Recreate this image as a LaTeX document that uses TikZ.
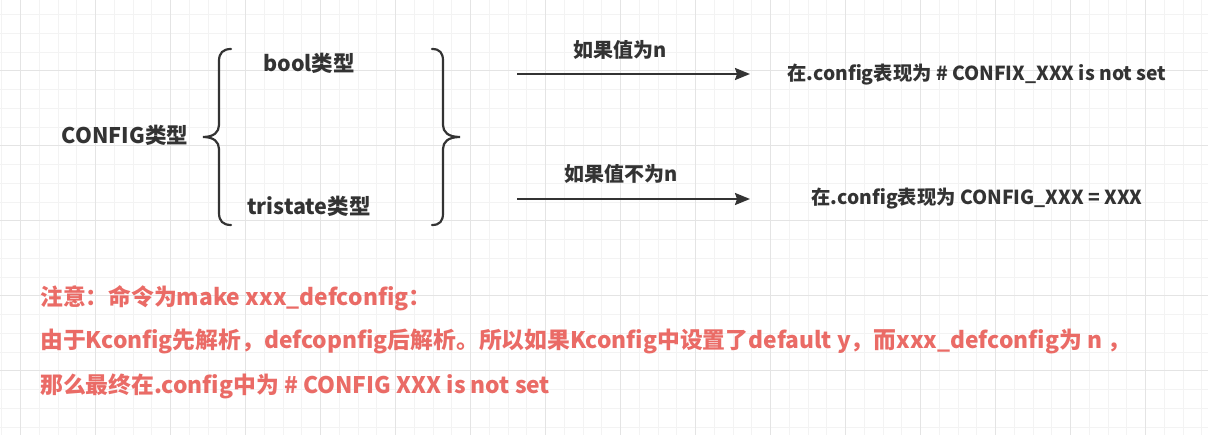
\documentclass[tikz,border=0pt]{standalone}
\usepackage{fontspec}
\setmainfont{Noto Sans CJK SC}
\usetikzlibrary{arrows.meta}
\definecolor{ink}{HTML}{333333}
\definecolor{note}{HTML}{EA6B66}
\definecolor{gridminor}{HTML}{F3F3F3}
\definecolor{gridmajor}{HTML}{E4E4E4}
\tikzset{
  label/.style={font=\fontsize{21.5}{24}\selectfont\bfseries, text=ink, inner sep=0pt},
  flowlabel/.style={font=\fontsize{20}{22}\selectfont\bfseries, text=ink, inner sep=0pt},
  result/.style={font=\fontsize{19.3}{22}\selectfont\bfseries, text=ink, inner sep=0pt},
  notetext/.style={font=\fontsize{22.8}{25}\selectfont\bfseries, text=note, inner sep=0pt, anchor=west},
  brace/.style={draw=ink, line width=2.2pt, line cap=round},
  flow/.style={draw=ink, line width=2pt, -{Stealth[length=15pt, width=12pt, inset=2pt]}}
}
\begin{document}
\begin{tikzpicture}[x=1pt, y=-1pt]
    \useasboundingbox[fill=white] (0,0) rectangle (1208,435);
    % Grid
    \foreach \i in {0,...,64} \draw[gridminor, line width=1pt] (1.95+18.75*\i,0) -- (1.95+18.75*\i,435);
    \foreach \i in {0,...,23} \draw[gridminor, line width=1pt] (0,-4+18.75*\i) -- (1208,-4+18.75*\i);
    \foreach \i in {0,...,16} \draw[gridmajor, line width=1pt] (20.7+75*\i,0) -- (20.7+75*\i,435);
    \foreach \i in {0,...,6} \draw[gridmajor, line width=1pt] (0,-4+75*\i) -- (1208,-4+75*\i);

    % Nodes
    \node[label] at (125, 135) (config) {CONFIG类型};
    \node[label] at (309, 63)  (bool)   {bool类型};
    \node[label] at (309, 206) (tri)    {tristate类型};

    \node[flowlabel] at (620, 50)  (ifn)    {如果值为n};
    \node[flowlabel] at (621, 174) (ifnotn) {如果值不为n};
    \node[result] at (977, 75)  (notset) {在.config表现为 \# CONFIX\_XXX is not set};
    \node[result] at (977, 199) (isset)  {在.config表现为 CONFIG\_XXX = XXX};

    \coordinate (a1) at (517, 74);
    \coordinate (b1) at (750, 74);
    \coordinate (a2) at (517, 199);
    \coordinate (b2) at (750, 199);

    % Braces
    \draw[brace] (231,49) .. controls (223,49) and (219,53) .. (219,61) -- (219,125)
        .. controls (219,132) and (214,137) .. (203,137)
        .. controls (214,137) and (219,142) .. (219,149) -- (219,213)
        .. controls (219,221) and (223,225) .. (231,225);
    \draw[brace] (432,49) .. controls (440,49) and (443,53) .. (443,61) -- (443,125)
        .. controls (443,132) and (448,137) .. (460,137)
        .. controls (448,137) and (443,142) .. (443,149) -- (443,213)
        .. controls (443,221) and (440,225) .. (432,225);

    % Arrows
    \draw[flow] (a1) -- (b1);
    \draw[flow] (a2) -- (b2);

    % Note
    \node[notetext] at (40, 298) (note1) {注意：命令为make xxx\_defconfig：};
    \node[notetext] at (40, 341) (note2) {由于Kconfig先解析，defcopnfig后解析。所以如果Kconfig中设置了default y，而xxx\_defconfig为 n ，};
    \node[notetext] at (40, 386) (note3) {那么最终在.config中为 \# CONFIG XXX is not set};
\end{tikzpicture}
\end{document}
